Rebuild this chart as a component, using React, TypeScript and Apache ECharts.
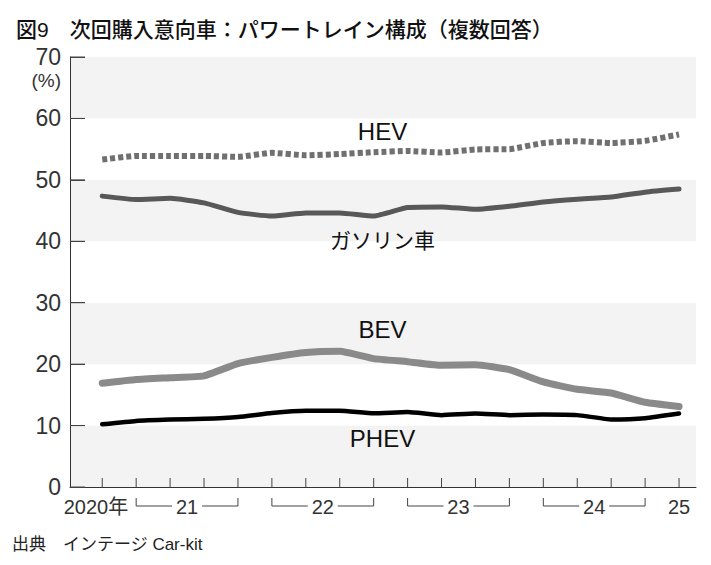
import React, { useEffect, useRef } from 'react';
import * as echarts from 'echarts';

const quarters = [
  '2020Q4', '2021Q1', '2021Q2', '2021Q3', '2021Q4', '2022Q1', '2022Q2', '2022Q3', '2022Q4',
  '2023Q1', '2023Q2', '2023Q3', '2023Q4', '2024Q1', '2024Q2', '2024Q3', '2024Q4', '2025Q1',
];
const hev = [53.3, 53.9, 53.9, 53.9, 53.75, 54.4, 54.0, 54.2, 54.5, 54.7, 54.45, 54.95, 55.0, 56.0, 56.3, 56.0, 56.35, 57.4];
const gasoline = [47.35, 46.8, 47.0, 46.25, 44.7, 44.1, 44.6, 44.6, 44.1, 45.5, 45.6, 45.2, 45.7, 46.4, 46.85, 47.2, 48.0, 48.5];
const bev = [16.9, 17.5, 17.8, 18.1, 20.1, 21.1, 21.9, 22.1, 20.9, 20.4, 19.8, 19.9, 19.1, 17.1, 15.9, 15.3, 13.8, 13.1];
const phev = [10.2, 10.75, 10.97, 11.1, 11.4, 12.05, 12.4, 12.4, 12.0, 12.2, 11.7, 11.95, 11.7, 11.8, 11.7, 11.0, 11.2, 11.95];

const yearStart = [1, 5, 9, 13];
const yearEnd = [4, 8, 12, 16];
const yearLabels = ['21', '22', '23', '24'];
const edgeLabels = ['2020年', '25'];
const edgeIndex = [0, 17];

const seriesNames = ['HEV', 'ガソリン車', 'BEV', 'PHEV'];

const yTicks = [0, 10, 20, 30, 40, 50, 60, 70];

const FONT = "'Liberation Sans', 'Noto Sans CJK JP', sans-serif";
const X_MIN = -0.95;
const X_MAX = 17.5;

export default function App() {
  const ref = useRef<HTMLDivElement>(null);
  useEffect(() => {
    document.body.style.margin = '0';
    const chart = echarts.init(ref.current!, null, { renderer: 'svg' });
    const pairs = (arr: number[]) => arr.map((v, i) => [i, v]);
    const labelAnchors = [
      [8.26, 57.9],
      [8.26, 40.2],
      [8.26, 25.7],
      [8.26, 7.9],
    ];
    const option: any = {
      animation: false,
      textStyle: { fontFamily: FONT },
      title: {
        text: '図9　次回購入意向車：パワートレイン構成（複数回答）',
        left: 11,
        top: 14,
        textStyle: { fontSize: 21, fontWeight: 500, color: '#111', fontFamily: FONT },
      },
      grid: { left: 70, right: 15, top: 57, bottom: 78, containLabel: false },
      xAxis: {
        type: 'value',
        min: X_MIN,
        max: X_MAX,
        axisLine: { show: true, onZero: false, lineStyle: { color: '#333', width: 1 } },
        axisTick: { show: false },
        axisLabel: { show: false },
        splitLine: { show: false },
      },
      yAxis: {
        type: 'value',
        min: yTicks[0],
        max: yTicks[yTicks.length - 1],
        interval: 10,
        axisLine: { show: true, onZero: false, lineStyle: { color: '#333', width: 1 } },
        axisTick: { show: true, inside: true, length: 15, lineStyle: { color: '#444', width: 1 } },
        axisLabel: { fontSize: 23, color: '#333', margin: 9, fontFamily: FONT },
        splitLine: { show: false },
        splitArea: { show: true, areaStyle: { color: ['#f3f3f3', '#ffffff'] } },
      },
      graphic: [
        {
          type: 'text',
          x: 61,
          y: 80,
          style: { text: '(%)', align: 'right', verticalAlign: 'middle', fontSize: 19, fill: '#333', fontFamily: FONT },
        },
        {
          type: 'text',
          x: 12,
          y: 544,
          style: { text: '出典　インテージ Car-kit', align: 'left', verticalAlign: 'middle', fontSize: 17, fill: '#222', fontFamily: FONT },
        },
      ],
      series: [
        {
          name: 'BEV',
          type: 'line',
          data: pairs(bev),
          showSymbol: false,
          smooth: 0.15,
          lineStyle: { color: '#8a8a8a', width: 7, cap: 'round', join: 'round' },
          z: 3,
        },
        {
          name: 'PHEV',
          type: 'line',
          data: pairs(phev),
          showSymbol: false,
          smooth: 0.15,
          lineStyle: { color: '#000000', width: 4.5, cap: 'round', join: 'round' },
          z: 4,
        },
        {
          name: 'ガソリン車',
          type: 'line',
          data: pairs(gasoline),
          showSymbol: false,
          smooth: 0.15,
          lineStyle: { color: '#585858', width: 5, cap: 'round', join: 'round' },
          z: 3,
        },
        {
          name: 'HEV',
          type: 'line',
          data: pairs(hev),
          showSymbol: false,
          smooth: 0.15,
          lineStyle: { color: '#707070', width: 6, type: [5, 3], cap: 'butt' },
          z: 3,
        },
        {
          name: 'ticks',
          type: 'custom',
          clip: false,
          silent: true,
          data: quarters.map((_, i) => [i, 0]),
          renderItem: (params: any, api: any) => {
            const pt = api.coord([api.value(0), 0]);
            const xTick = {
              type: 'rect',
              shape: { x: pt[0] - 0.5, y: pt[1] - 9, width: 1, height: 9 },
              style: { fill: '#444' },
            };
            if (params.dataIndex !== 0) return xTick;
            const children: any[] = [xTick];
            yTicks.forEach((v) => {
              const q = api.coord([X_MIN, v]);
              children.push({
                type: 'rect',
                shape: { x: q[0], y: q[1] - 0.5, width: 15, height: 1 },
                style: { fill: '#444' },
              });
            });
            return { type: 'group', children };
          },
          z: 5,
        },
        {
          name: 'years',
          type: 'custom',
          clip: false,
          silent: true,
          data: yearStart.map((s, i) => [s, yearEnd[i]]),
          renderItem: (params: any, api: any) => {
            const p1 = api.coord([api.value(0), 0]);
            const p2 = api.coord([api.value(1), 0]);
            const top = p1[1] + 11;
            const bot = p1[1] + 19;
            const mid = (p1[0] + p2[0]) / 2;
            const hw = 15;
            const st = { stroke: '#444', lineWidth: 1, fill: null };
            return {
              type: 'group',
              children: [
                { type: 'polyline', shape: { points: [[p1[0], top], [p1[0], bot], [mid - hw, bot]] }, style: st },
                { type: 'polyline', shape: { points: [[mid + hw, bot], [p2[0], bot], [p2[0], top]] }, style: st },
                {
                  type: 'text',
                  x: mid,
                  y: bot + 1,
                  style: { text: yearLabels[params.dataIndex], align: 'center', verticalAlign: 'middle', fontSize: 20, fill: '#333', fontFamily: FONT },
                },
              ],
            };
          },
        },
        {
          name: 'edgeYears',
          type: 'custom',
          clip: false,
          silent: true,
          data: edgeIndex.map((x) => [x, 0]),
          renderItem: (params: any, api: any) => {
            const p = api.coord([api.value(0), 0]);
            const first = params.dataIndex === 0;
            return {
              type: 'text',
              x: first ? p[0] + 26 : p[0],
              y: p[1] + 20,
              style: { text: edgeLabels[params.dataIndex], align: first ? 'right' : 'center', verticalAlign: 'middle', fontSize: 20, fill: '#333', fontFamily: FONT },
            };
          },
        },
        {
          name: 'seriesLabels',
          type: 'custom',
          clip: false,
          silent: true,
          data: labelAnchors,
          renderItem: (params: any, api: any) => {
            const p = api.coord([api.value(0), api.value(1)]);
            const isJa = params.dataIndex === 1;
            return {
              type: 'text',
              x: p[0],
              y: p[1],
              style: { text: seriesNames[params.dataIndex], align: 'center', verticalAlign: 'middle', fontSize: isJa ? 21 : 24, fill: '#111', fontFamily: FONT },
            };
          },
          z: 6,
        },
      ],
    };
    chart.setOption(option);
    return () => chart.dispose();
  }, []);
  return <div ref={ref} style={{ width: 711, height: 565 }} />;
}
